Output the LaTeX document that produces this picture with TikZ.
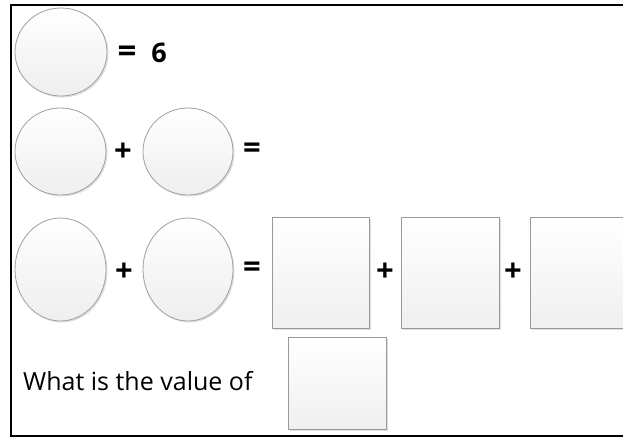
\documentclass[tikz,border=0pt]{standalone}
\usepackage{fontspec}
\setmainfont{Open Sans}
\usepackage{tikz}
\usetikzlibrary{shapes.geometric,shadows,positioning}

\begin{document}
\begin{tikzpicture}[
  x=1pt, y=-1pt,
  circ/.style={ellipse, draw=gray!75, line width=0.8pt, top color=white, bottom color=gray!13,
    drop shadow={opacity=0.25, shadow xshift=1.5pt, shadow yshift=-1.5pt}},
  sqbox/.style={rectangle, draw=gray!80, line width=0.8pt, top color=white, bottom color=gray!12,
    drop shadow={opacity=0.25, shadow xshift=1.5pt, shadow yshift=-1.5pt}},
  sign/.style={font=\fontsize{31}{31}\selectfont\bfseries, inner sep=0pt},
  txt/.style={font=\fontsize{25}{25}\selectfont, inner sep=0pt, anchor=west}
]
\useasboundingbox (0,0) rectangle (623,437);
\draw[line width=2pt] (10.5,5) rectangle (640,436);

% row 1
\node[circ, minimum width=92pt, minimum height=88pt] (c1) at (61,52) {};
\node[sign, anchor=base, font=\fontsize{33}{33}\selectfont\bfseries] (eq1) at (127,62) {=};
\node[sign, anchor=base, font=\fontsize{27}{27}\selectfont\bfseries] (six) at (159,62) {6};

% row 2
\node[circ, minimum width=91pt, minimum height=87pt] (c2a) at (60.5,151.5) {};
\node[sign] (p2) at (123,152) {+};
\node[circ, minimum width=90pt, minimum height=87pt] (c2b) at (188,151.5) {};
\node[sign] (eq2) at (252,151) {=};

% row 3
\node[circ, minimum width=91pt, minimum height=103pt] (c3a) at (60.5,269.5) {};
\node[sign] (p3a) at (124,272) {+};
\node[circ, minimum width=90pt, minimum height=103pt] (c3b) at (188,269.5) {};
\node[sign] (eq3) at (252,270) {=};
\node[sqbox, minimum width=97pt, minimum height=111pt] (s1) at (320.5,272.5) {};
\node[sign] (p3b) at (385,272) {+};
\node[sqbox, minimum width=98pt, minimum height=111pt] (s2) at (450,272.5) {};
\node[sign] (p3c) at (513,272) {+};
\node[sqbox, minimum width=97pt, minimum height=111pt] (s3) at (578.5,272.5) {};

% row 4
\node[txt] (ask) at (23,381) {What is the value of};
\node[sqbox, minimum width=98pt, minimum height=92pt] (s4) at (337,383) {};
\end{tikzpicture}
\end{document}
